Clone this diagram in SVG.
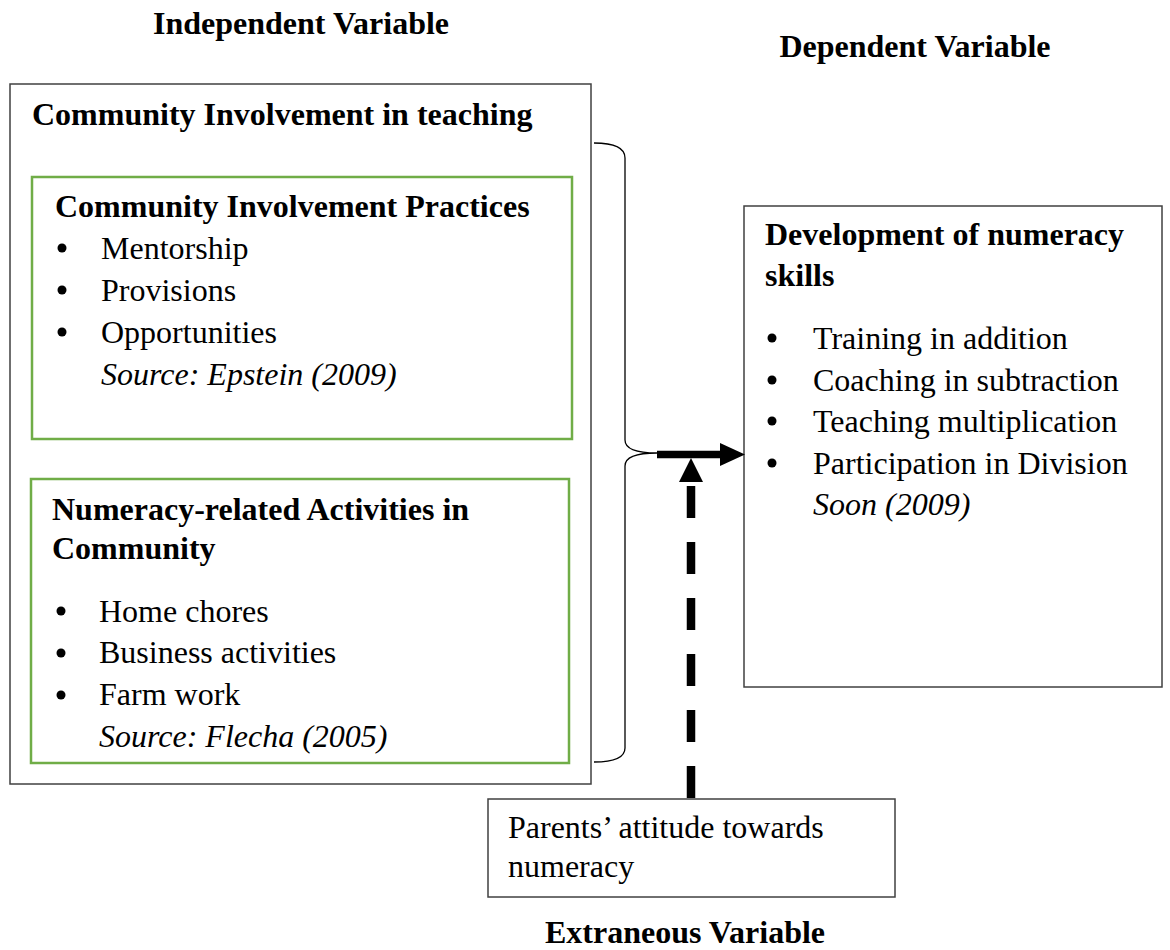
<svg xmlns="http://www.w3.org/2000/svg" width="1170" height="950" viewBox="0 0 1170 950">
  <style>
    text { font-family: "Liberation Serif", "Times New Roman", serif; font-size: 32px; fill: #000; }
    .b { font-weight: bold; }
    .i { font-style: italic; }
    .mid { text-anchor: middle; }
    .box { fill: #fff; stroke: #404040; stroke-width: 1.5; }
    .green { fill: none; stroke: #70AD47; stroke-width: 2.5; }
    .brace { fill: none; stroke: #000; stroke-width: 1.3; }
  </style>
  <defs>
    <circle id="dot" r="4.5" fill="#000"/>
  </defs>
  <rect width="1170" height="950" fill="#fff"/>

  <!-- headings -->
  <text class="b mid" x="301" y="34">Independent Variable</text>
  <text class="b mid" x="915" y="57">Dependent Variable</text>
  <text class="b mid" x="685" y="943">Extraneous Variable</text>

  <!-- independent variable container -->
  <g id="independent">
    <rect class="box" x="10" y="84" width="581" height="700"/>
    <text class="b" x="32" y="125">Community Involvement in teaching</text>
  </g>

  <g id="practices">
    <rect class="green" x="32" y="177" width="540" height="262"/>
    <text class="b" x="55" y="217">Community Involvement Practices</text>
    <use href="#dot" x="62" y="248"/>
    <use href="#dot" x="62" y="290"/>
    <use href="#dot" x="62" y="332"/>
    <text x="101" y="259">Mentorship</text>
    <text x="101" y="301">Provisions</text>
    <text x="101" y="343">Opportunities</text>
    <text class="i" x="101" y="385">Source: Epstein (2009)</text>
  </g>

  <g id="activities">
    <rect class="green" x="31" y="479" width="538" height="284"/>
    <text class="b" x="52" y="520">Numeracy-related Activities in</text>
    <text class="b" x="52" y="559">Community</text>
    <use href="#dot" x="61" y="611"/>
    <use href="#dot" x="61" y="653"/>
    <use href="#dot" x="61" y="695"/>
    <text x="99" y="622">Home chores</text>
    <text x="99" y="663">Business activities</text>
    <text x="99" y="705">Farm work</text>
    <text class="i" x="99" y="747">Source: Flecha (2005)</text>
  </g>

  <!-- dependent variable -->
  <g id="numeracy">
    <rect class="box" x="744" y="206" width="418" height="481"/>
    <text class="b" x="765" y="245">Development of numeracy</text>
    <text class="b" x="765" y="286">skills</text>
    <use href="#dot" x="772" y="338"/>
    <use href="#dot" x="772" y="380"/>
    <use href="#dot" x="772" y="421"/>
    <use href="#dot" x="772" y="463"/>
    <text x="813" y="349">Training in addition</text>
    <text x="813" y="391">Coaching in subtraction</text>
    <text x="813" y="432">Teaching multiplication</text>
    <text x="813" y="474">Participation in Division</text>
    <text class="i" x="813" y="515">Soon (2009)</text>
  </g>

  <!-- extraneous variable -->
  <g id="attitude">
    <rect class="box" x="488" y="799" width="407" height="98" stroke="#222"/>
    <text x="508" y="838">Parents’ attitude towards</text>
    <text x="508" y="877">numeracy</text>
  </g>

  <!-- connectors -->
  <g id="connectors">
    <path class="brace" d="M594,143 Q625,143 625,158 L625,440 Q625,453 657,453 Q625,453 625,466 L625,748 Q625,762 594,762"/>
    <line x1="657" y1="454.5" x2="722" y2="454.5" stroke="#000" stroke-width="7.5"/>
    <polygon points="720,443 745,454.5 720,466" fill="#000"/>
    <line x1="691" y1="798" x2="691" y2="486" stroke="#000" stroke-width="8.5" stroke-dasharray="32 24"/>
    <polygon points="691,458 703,482 679,482" fill="#000"/>
  </g>
</svg>
